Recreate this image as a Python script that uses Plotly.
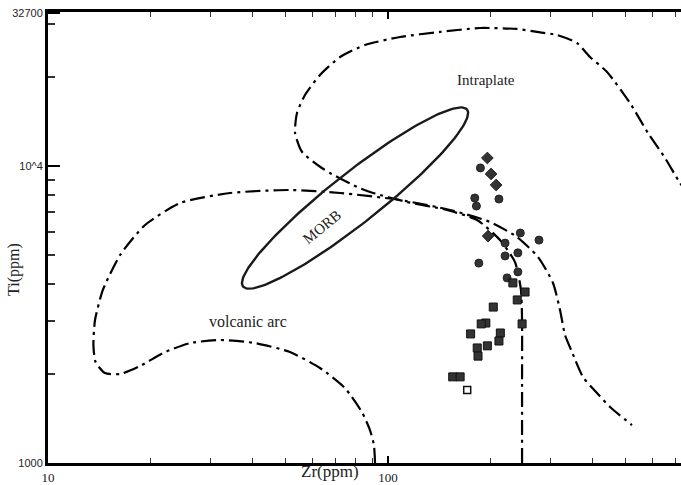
import numpy as np
import plotly.graph_objects as go

# ---- field boundaries (Zr ppm, Ti ppm) ----
intraplate_zr = [247.9, 247.9, 247.9, 246.1, 236.3, 213.5, 182.8, 149.1, 113.7, 90.4, 81.1, 67.5, 63.9,
                 55.9, 53.3, 54.0, 57.0, 63.1, 72.3, 85.6, 108.5, 142.2, 186.5, 239.6, 274.3, 314.1,
                 359.6, 392.8, 440.8, 515.0, 581.8, 652.8, 722.5, 773.0]
intraplate_ti = [1000, 1903, 3030, 3824, 4751, 5634, 6578, 7111, 7565, 8112, 8501, 9471, 9847,
                 11145, 12910, 15090, 17340, 20250, 23280, 25550, 27190, 28270, 29150, 28930, 28270, 27610,
                 25950, 23280, 20730, 16300, 12910, 10640, 8766, 7925]

arc_zr = [91.6, 90.9, 88.5, 83.8, 74.7, 63.1, 51.5, 40.6, 32.1, 26.2, 22.1, 18.65, 16.3, 14.7, 13.8,
          13.6, 13.75, 14.5, 16.3, 19.3, 24.5, 34.3, 51.5, 72.3, 108.5, 152.2, 199.5, 239.6, 276.2,
          305.7, 320.6, 331.6, 347.7, 374.5, 411.9, 449.8, 521.9]
arc_ti = [1000, 1150, 1291, 1484, 1788, 2089, 2364, 2535, 2595, 2535, 2364, 2121, 1994, 2009, 2188,
          2496, 3030, 3824, 5016, 6329, 7506, 8112, 8303, 8112, 7683, 7111, 6478, 5767, 4938,
          4038, 3275, 2698, 2364, 1948, 1721, 1544, 1342]

# MORB field: ellipse in log-log space (centre in ppm, half-axes in decades)
morb_center = (80.0, 7800.0)
morb_major = (0.3294, 0.2980)
morb_minor = (0.0456, -0.0661)

# ---- samples ----
diam_zr = [196, 201, 208, 197]
diam_ti = [10640, 9400, 8630, 5810]
circ_zr = [187, 212, 180, 182, 245, 278, 221, 221, 241, 185, 241, 224]
circ_ti = [9850, 7740, 7800, 7330, 5950, 5630, 5500, 4980, 5100, 4710, 4400, 4200]
sq_zr = [233, 253, 240, 204, 248, 194, 188, 175, 214, 212, 196, 183, 184, 155, 163]
sq_ti = [4040, 3765, 3540, 3350, 2940, 2960, 2940, 2720, 2740, 2575, 2480, 2440, 2290, 1950, 1950]
open_zr = [171]
open_ti = [1760]

x_ticks = [10, 100]
x_ticktext = ["10", "100"]
y_ticks = [1000, 10000, 32700]
y_ticktext = ["1000", "10^4", "32700"]

dash = "15px,5px,3px,5px"
fig = go.Figure()
fig.add_trace(go.Scatter(x=intraplate_zr, y=intraplate_ti, mode="lines",
                         line=dict(color="black", width=2.2, dash=dash, shape="spline", smoothing=0.6),
                         showlegend=False, hoverinfo="skip"))
fig.add_trace(go.Scatter(x=arc_zr, y=arc_ti, mode="lines",
                         line=dict(color="black", width=2.2, dash=dash, shape="spline", smoothing=0.6),
                         showlegend=False, hoverinfo="skip"))

t = np.linspace(0, 2 * np.pi, 200)
lx = np.log10(morb_center[0]) + np.cos(t) * morb_major[0] + np.sin(t) * morb_minor[0]
ly = np.log10(morb_center[1]) + np.cos(t) * morb_major[1] + np.sin(t) * morb_minor[1]
fig.add_trace(go.Scatter(x=10 ** lx, y=10 ** ly, mode="lines",
                         line=dict(color="#1a1a1a", width=2.4), showlegend=False, hoverinfo="skip"))

fig.add_trace(go.Scatter(x=circ_zr, y=circ_ti, mode="markers",
                         marker=dict(symbol="circle", size=8, color="#333333",
                                     line=dict(color="#222222", width=1)), showlegend=False))
fig.add_trace(go.Scatter(x=diam_zr, y=diam_ti, mode="markers",
                         marker=dict(symbol="diamond", size=9, color="#333333",
                                     line=dict(color="#222222", width=1)), showlegend=False))
fig.add_trace(go.Scatter(x=sq_zr, y=sq_ti, mode="markers",
                         marker=dict(symbol="square", size=8, color="#333333",
                                     line=dict(color="#111111", width=1)), showlegend=False))
fig.add_trace(go.Scatter(x=open_zr, y=open_ti, mode="markers",
                         marker=dict(symbol="square-open", size=7, color="#111111",
                                     line=dict(width=1.5)), showlegend=False))

serif = "Liberation Serif"
fig.update_layout(
    width=681, height=485,
    margin=dict(l=48, r=0, t=12, b=22),
    paper_bgcolor="white", plot_bgcolor="white",
    xaxis=dict(type="log", range=[1, 2.8618], showgrid=False, zeroline=False,
               showline=True, linecolor="black", linewidth=3, mirror="allticks",
               tickmode="array", tickvals=x_ticks, ticktext=x_ticktext,
               ticks="inside", ticklen=7, tickwidth=1.5, tickcolor="black",
               tickfont=dict(family=serif, size=13, color="#222"),
               minor=dict(ticks="inside", ticklen=5, tickwidth=1.2, tickcolor="#333",
                          tickvals=[20, 30, 40, 50, 60, 70, 80, 90, 200, 300, 400, 500, 600, 700])),
    yaxis=dict(type="log", range=[3, 4.5185], showgrid=False, zeroline=False,
               showline=True, linecolor="black", linewidth=3,
               tickmode="array", tickvals=y_ticks, ticktext=y_ticktext,
               ticks="inside", ticklen=12, tickwidth=1.5, tickcolor="black",
               tickfont=dict(family="Liberation Sans", size=11, color="#222"),
               minor=dict(ticks="inside", ticklen=7, tickwidth=1.5, tickcolor="#333",
                          tickvals=[2000, 3000, 4000, 5000, 6000, 7000, 8000, 9000, 20000, 30000])),
    annotations=[
        dict(text="Zr(ppm)", xref="paper", yref="paper", x=0.4455, y=-0.018, showarrow=False,
             xanchor="center", yanchor="middle", font=dict(family=serif, size=17, color="#222")),
        dict(text="Ti(ppm)", xref="paper", yref="paper", x=-0.054, y=0.43, showarrow=False,
             textangle=-90, xanchor="center", yanchor="middle", font=dict(family=serif, size=16, color="#222")),
        dict(text="Intraplate", xref="x", yref="y", x=2.288, y=4.2896, showarrow=False,
             font=dict(family=serif, size=15, color="#222")),
        dict(text="volcanic arc", xref="x", yref="y", x=1.588, y=3.478, showarrow=False,
             font=dict(family=serif, size=16, color="#222")),
        dict(text="MORB", xref="x", yref="y", x=1.806, y=3.7946, showarrow=False, textangle=-39,
             font=dict(family=serif, size=15, color="#222")),
    ],
)

fig.write_html("out.html")
